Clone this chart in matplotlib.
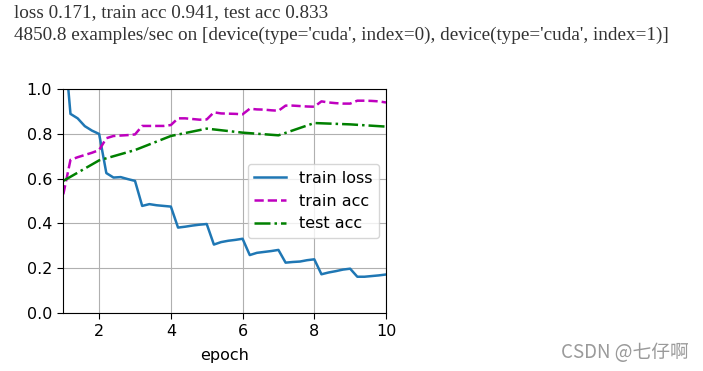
import matplotlib
matplotlib.use("Agg")
import matplotlib.pyplot as plt

# training curves (5 records per epoch)
train_x = [1.0, 1.2, 1.4, 1.6, 1.8, 2.0, 2.2, 2.4, 2.6, 2.8, 3.0, 3.2, 3.4, 3.6, 3.8,
           4.0, 4.2, 4.4, 4.6, 4.8, 5.0, 5.2, 5.4, 5.6, 5.8, 6.0, 6.2, 6.4, 6.6, 6.8,
           7.0, 7.2, 7.4, 7.6, 7.8, 8.0, 8.2, 8.4, 8.6, 8.8, 9.0, 9.2, 9.4, 9.6, 9.8, 10.0]
train_loss = [1.26, 0.89, 0.87, 0.835, 0.815, 0.80, 0.625, 0.605, 0.607, 0.598, 0.59,
              0.478, 0.486, 0.481, 0.478, 0.475, 0.381, 0.385, 0.390, 0.394, 0.397,
              0.305, 0.316, 0.322, 0.326, 0.331, 0.258, 0.268, 0.272, 0.276, 0.281,
              0.224, 0.227, 0.229, 0.235, 0.239, 0.172, 0.180, 0.186, 0.193, 0.197,
              0.161, 0.161, 0.164, 0.167, 0.171]
train_acc = [0.53, 0.684, 0.696, 0.706, 0.716, 0.728, 0.781, 0.791, 0.793, 0.795, 0.798,
             0.836, 0.836, 0.836, 0.836, 0.840, 0.870, 0.870, 0.867, 0.864, 0.865,
             0.897, 0.892, 0.891, 0.890, 0.888, 0.913, 0.910, 0.909, 0.906, 0.904,
             0.927, 0.927, 0.925, 0.923, 0.922, 0.946, 0.941, 0.938, 0.936, 0.936,
             0.949, 0.949, 0.948, 0.946, 0.941]
test_x = [1, 2, 3, 4, 5, 6, 7, 8, 9, 10]
test_acc = [0.59, 0.682, 0.728, 0.791, 0.824, 0.806, 0.794, 0.849, 0.843, 0.833]

line1 = "loss 0.171, train acc 0.941, test acc 0.833"
line2 = "4850.8 examples/sec on [device(type='cuda', index=0), device(type='cuda', index=1)]"

fig = plt.figure(figsize=(7.03, 3.71), dpi=100)

# printed output above the plot; size the font so line 2 spans ~682 px like the original
t1 = fig.text(14 / 703, 1 - 17 / 371, line1, family="Liberation Serif", fontsize=11.4,
              color="#333333", va="baseline")
t2 = fig.text(14 / 703, 1 - 40 / 371, line2, family="Liberation Serif", fontsize=11.4,
              color="#333333", va="baseline")
r = fig.canvas.get_renderer()
fs = 11.4 * 682 / t2.get_window_extent(r).width
fs = min(fs, 13.8)
t1.set_fontsize(fs)
t2.set_fontsize(fs)

ax = fig.add_axes([63.3 / 703, 1 - 312.7 / 371, (386 - 63.3) / 703, (312.7 - 89.3) / 371])
ax.plot(train_x, train_loss, color="#1f77b4", ls="-", lw=1.8, label="train loss")
ax.plot(train_x, train_acc, color="m", ls="--", lw=1.8, label="train acc")
ax.plot(test_x, test_acc, color="g", ls="-.", lw=1.8, label="test acc")

ax.set_xlim(1, 10)
ax.set_ylim(0, 1)
ax.set_xticks([2, 4, 6, 8, 10])
ax.set_yticks([0.0, 0.2, 0.4, 0.6, 0.8, 1.0])
ax.tick_params(labelsize=11.5, length=4.5)
ax.set_xlabel("epoch", fontsize=11.5, labelpad=6.5)
ax.grid(True)
ax.legend(loc="center right", fontsize=11.5, borderaxespad=0.45)

# watermark
fig.text(689 / 703, 1 - 353 / 371, "CSDN @七仔啊", family=["Noto Sans CJK SC", "DejaVu Sans"],
         fontsize=13.5, color="#9a9a9a", ha="right", va="center")

fig.savefig("out.png", dpi=100)
